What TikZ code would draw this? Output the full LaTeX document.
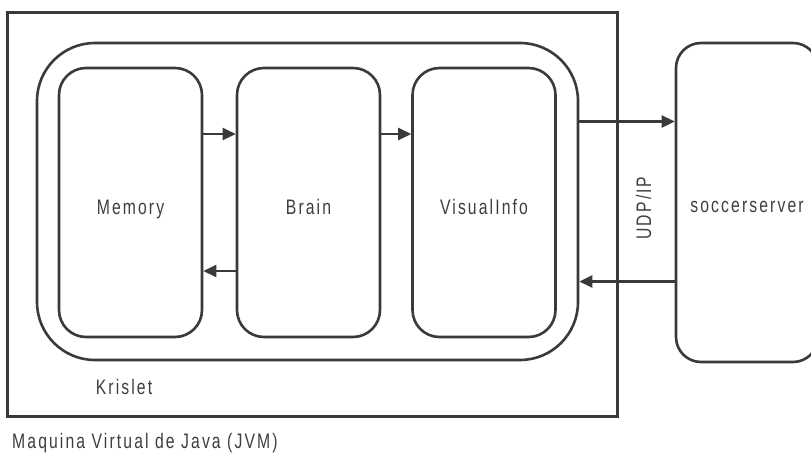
\documentclass[tikz,border=0pt]{standalone}
\usepackage{fontspec}
\setmainfont{Liberation Sans}[LetterSpace=10, FakeStretch=0.75]
\usetikzlibrary{arrows.meta}
\definecolor{ink}{HTML}{3A3A3E}
\definecolor{txt}{HTML}{3E3E42}
\tikzset{
  frame/.style={draw=ink, line width=2.6pt},
  bigtext/.style={text=txt, font=\fontsize{21}{24}\selectfont},
  module/.style={frame, bigtext, rounded corners=27pt, minimum width=143pt, minimum height=269pt,
    inner sep=0pt, text height=23pt, text depth=0pt},
  flow/.style={draw=ink, line width=2.6pt, -{Triangle[length=13pt,width=12pt]}},
  caption/.style={bigtext, inner sep=0pt},
}
\begin{document}
\begin{tikzpicture}[x=1pt, y=-1pt]
  \useasboundingbox (0,0) rectangle (811,455);
  % Java virtual machine
  \node[frame, minimum width=610pt, minimum height=404pt, inner sep=0pt] (jvm) at (312.5,214.5) {};
  % Krislet client
  \node[frame, rounded corners=58pt, minimum width=541pt, minimum height=317pt, inner sep=0pt] (krislet) at (307.5,201.5) {};
  % Krislet components
  \node[module] (mem) at (130.5,202.5) {Memory};
  \node[module] (brain) at (308.5,202.5) {Brain};
  \node[module] (vis) at (484,202.5) {VisualInfo};
  % Server
  \node[module, rounded corners=25pt, minimum width=142pt, minimum height=319pt, text height=19pt] (srv) at (747,202.5) {soccerserver};
  % Labels
  \node[caption, anchor=base] (kl) at (124,394) {Krislet};
  \node[caption, anchor=base west] (jl) at (12,448) {Maquina Virtual de Java (JVM)};
  \node[caption, rotate=90, anchor=base] (udp) at (651,208) {UDP/IP};
  % Message flow
  \draw[flow] ([yshift=68.5pt]mem.east) -- ([yshift=68.5pt]brain.west);
  \draw[flow] ([yshift=-68.5pt]brain.west) -- ([yshift=-68.5pt]mem.east);
  \draw[flow] ([yshift=68.5pt]brain.east) -- ([yshift=68.5pt]vis.west);
  \draw[flow] ([yshift=80pt]krislet.east) -- ([yshift=80pt]krislet.east -| srv.west);
  \draw[flow] ([yshift=-80pt]krislet.east -| srv.west) -- ([yshift=-80pt]krislet.east);
\end{tikzpicture}
\end{document}
